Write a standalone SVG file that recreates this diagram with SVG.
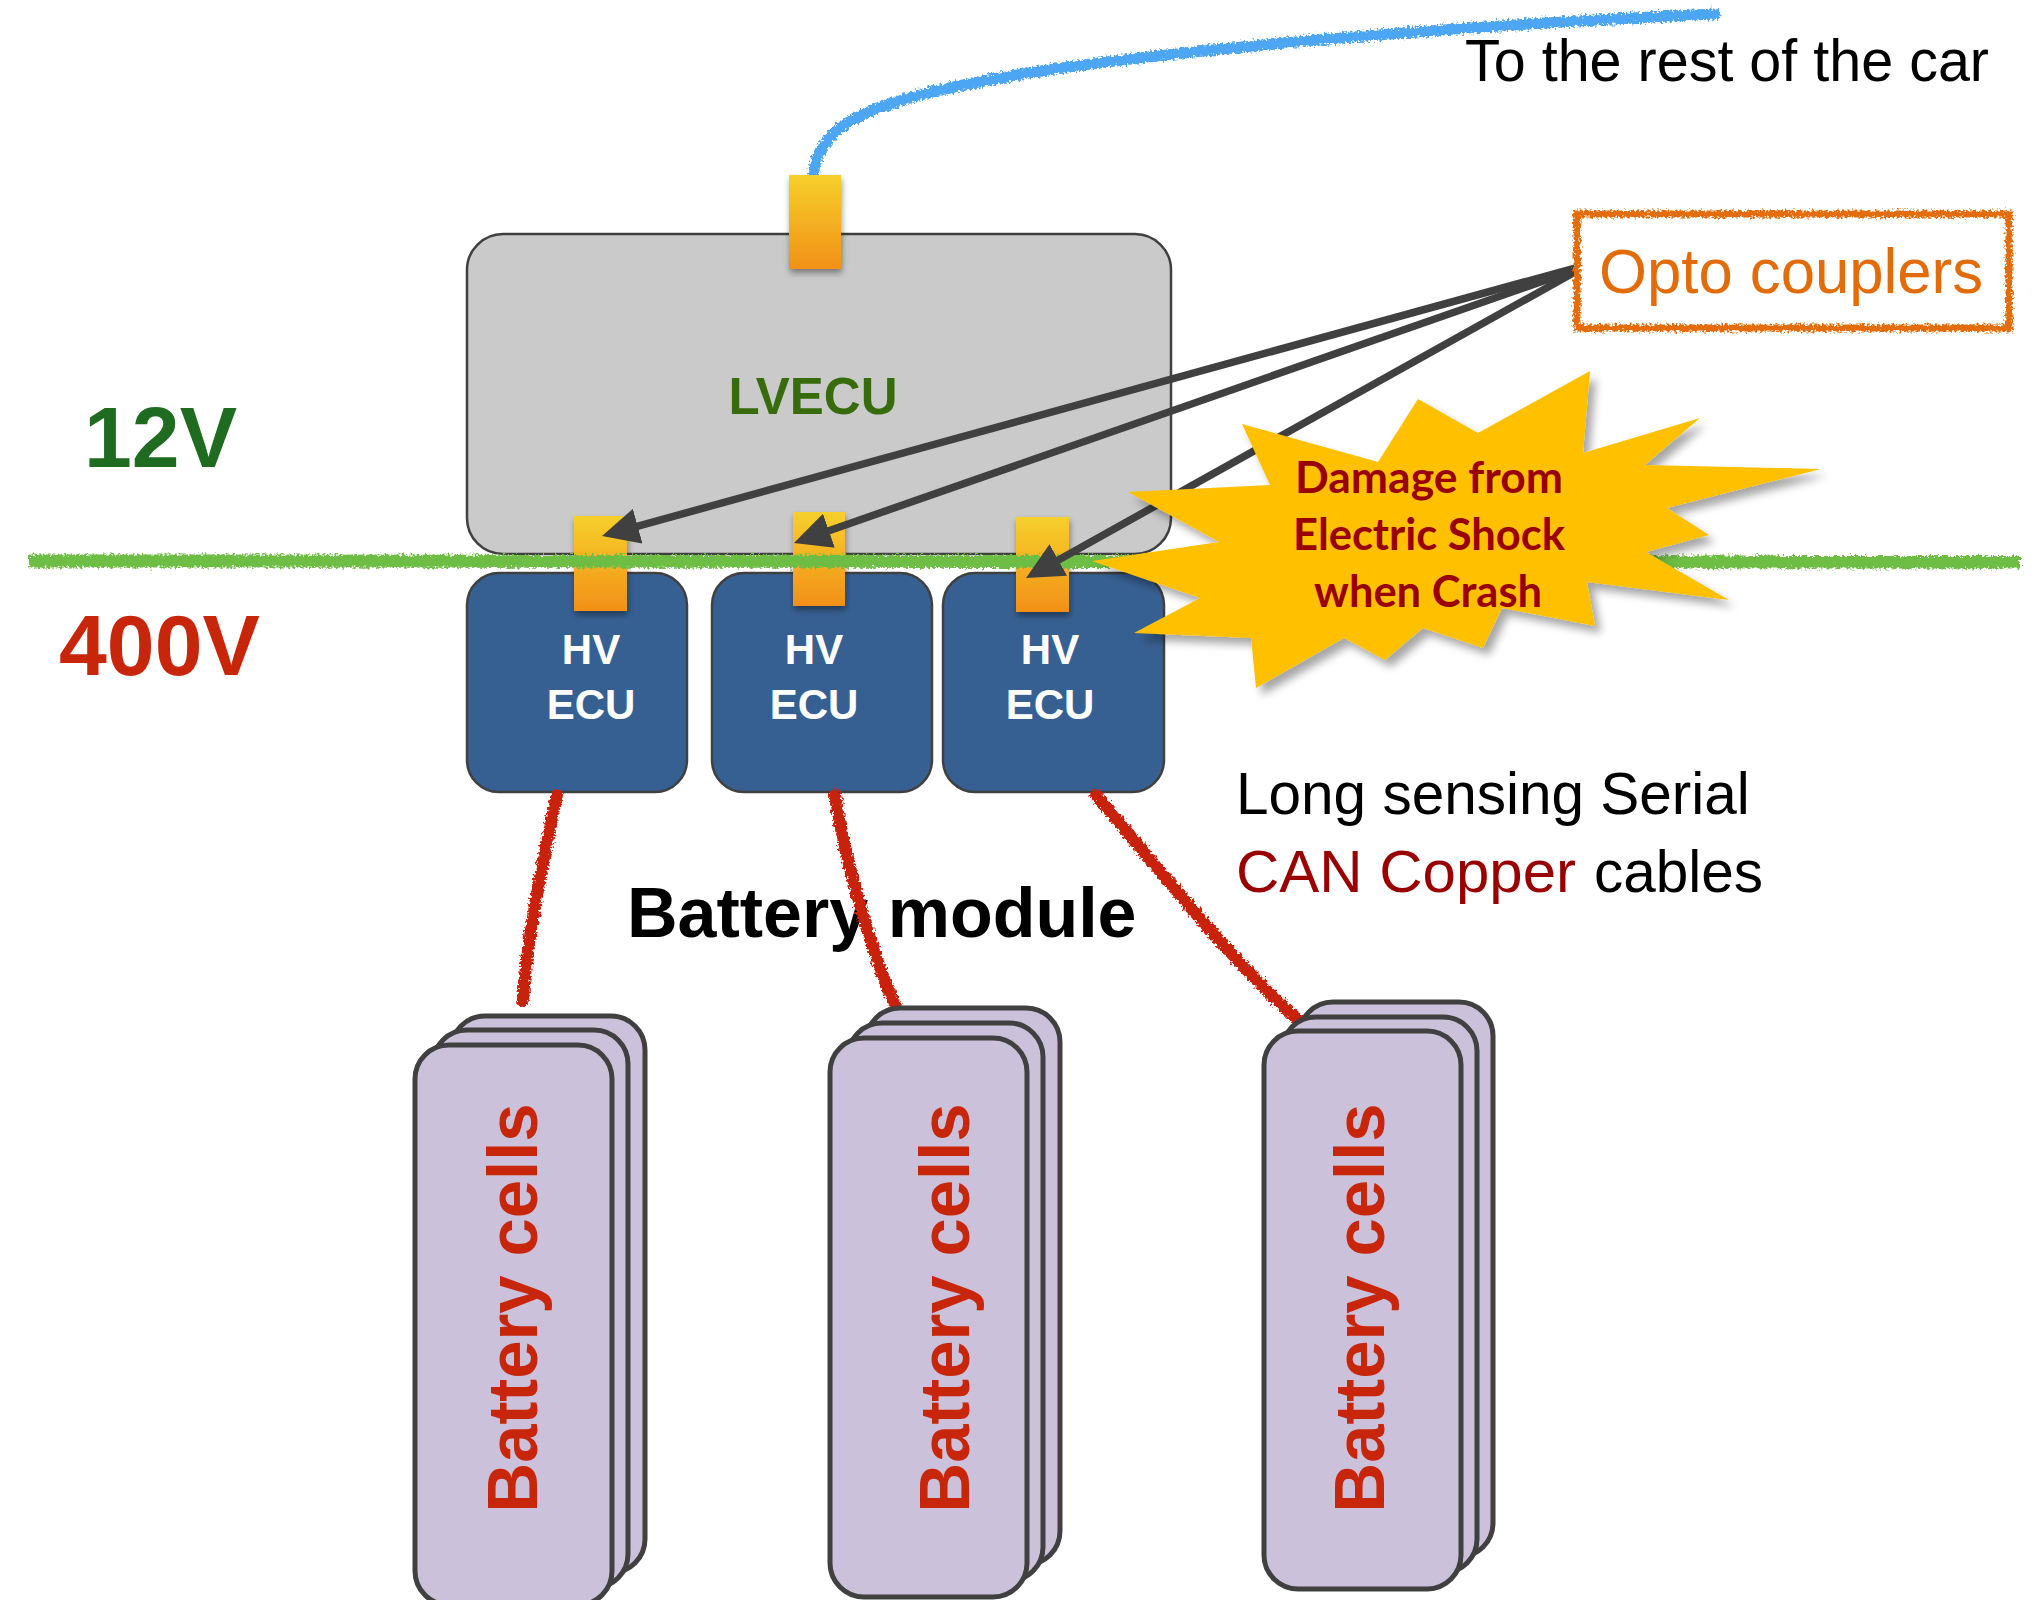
<svg xmlns="http://www.w3.org/2000/svg" width="2036" height="1600" viewBox="0 0 2036 1600">
<defs>
<style>
.ecu-lv{fill:#CACACA;stroke:#404040;stroke-width:2.5}
.ecu-hv{fill:#376092;stroke:#404040;stroke-width:2.5}
.conn{fill:url(#og);filter:url(#shadow)}
.cell{fill:#CCC1DA;stroke:#404040;stroke-width:5}
.hvt{font-family:"Liberation Sans",Arial,sans-serif;font-weight:bold;font-size:42px;fill:#FFFFFF;text-anchor:middle}
.cellt{font-family:"Liberation Sans",Arial,sans-serif;font-weight:bold;font-size:70px;fill:#C8260A;text-anchor:middle}
.arrow{fill:none;stroke:#404040;stroke-width:7.5;marker-end:url(#ah)}
.cable{fill:none;stroke:#C8240A;stroke-width:12;stroke-linecap:round}
.burstt{font-family:Lato,"Open Sans",sans-serif;font-weight:bold;font-size:44px;fill:#990000;text-anchor:middle}
.body{font-family:"Liberation Sans",Arial,sans-serif;font-size:58.5px}
</style>
<linearGradient id="og" x1="0" y1="0" x2="0" y2="1">
<stop offset="0" stop-color="#F6D02B"/>
<stop offset="1" stop-color="#F29018"/>
</linearGradient>
<filter id="rough" filterUnits="userSpaceOnUse" x="0" y="0" width="2036" height="1600">
<feTurbulence type="fractalNoise" baseFrequency="0.4" numOctaves="2" seed="3" result="n"/>
<feDisplacementMap in="SourceGraphic" in2="n" scale="8" xChannelSelector="R" yChannelSelector="G"/>
</filter>
<filter id="shadow" x="-40%" y="-20%" width="180%" height="150%">
<feDropShadow dx="1" dy="4" stdDeviation="3" flood-color="#000000" flood-opacity="0.4"/>
</filter>
<filter id="bshadow" x="-10%" y="-10%" width="125%" height="130%">
<feDropShadow dx="6" dy="7" stdDeviation="4" flood-color="#000000" flood-opacity="0.35"/>
</filter>
<marker id="ah" markerUnits="userSpaceOnUse" markerWidth="37" markerHeight="36" refX="25" refY="18" orient="auto">
<path d="M0,0 L37,18 L0,36 z" fill="#404040"/>
</marker>
</defs>
<rect x="0" y="0" width="2036" height="1600" fill="#FFFFFF"/>

<g id="labels-left">
<text x="84" y="467" font-family="Liberation Sans, Arial, sans-serif" font-weight="bold" font-size="86" fill="#1F6B1F">12V</text>
<text x="59" y="675" font-family="Liberation Sans, Arial, sans-serif" font-weight="bold" font-size="86" fill="#C8260A">400V</text>
</g>

<g id="car-link">
<path d="M813 176 C 818 120, 880 100, 1000 78 S 1400 28, 1715 14" fill="none" stroke="#4EA6F3" stroke-width="11" stroke-linecap="round" filter="url(#rough)"/>
<text x="1465" y="81" font-family="Liberation Sans, Arial, sans-serif" font-size="60" fill="#000000" textLength="524" lengthAdjust="spacingAndGlyphs">To the rest of the car</text>
</g>

<g id="lvecu">
<rect class="ecu-lv" x="467" y="234" width="704" height="320" rx="36"/>
<text x="813" y="414" text-anchor="middle" font-family="Liberation Sans, Arial, sans-serif" font-weight="bold" font-size="51" fill="#376B0C">LVECU</text>
<rect class="conn" x="789" y="175" width="52" height="94"/>
</g>

<g id="hvecu1">
<rect class="ecu-hv" x="467" y="573" width="220" height="219" rx="32"/>
<text class="hvt" x="591" y="664">HV</text>
<text class="hvt" x="591" y="719">ECU</text>
</g>
<g id="hvecu2">
<rect class="ecu-hv" x="712" y="573" width="220" height="219" rx="32"/>
<text class="hvt" x="814" y="664">HV</text>
<text class="hvt" x="814" y="719">ECU</text>
</g>
<g id="hvecu3">
<rect class="ecu-hv" x="943" y="573" width="221" height="219" rx="32"/>
<text class="hvt" x="1050" y="664">HV</text>
<text class="hvt" x="1050" y="719">ECU</text>
</g>

<g id="couplers">
<rect class="conn" x="574" y="516" width="53" height="95"/>
<rect class="conn" x="793" y="512" width="52" height="94"/>
<rect class="conn" x="1016" y="517" width="53" height="95"/>
</g>

<g id="boundary">
<path d="M29 561 L2020 562" fill="none" stroke="#6EBE44" stroke-width="13" filter="url(#rough)"/>
</g>

<g id="connectors">
<path class="arrow" d="M1575 268 L613.6 532.8"/>
<path class="arrow" d="M1575 270 L805.3 539"/>
<path class="arrow" d="M1575 272 L1036.5 572.2"/>
</g>

<g id="opto">
<rect x="1577" y="214" width="432" height="114" fill="none" stroke="#E36C0A" stroke-width="7" filter="url(#rough)"/>
<text x="1599" y="293" font-family="Liberation Sans, Arial, sans-serif" font-size="63" fill="#E36C0A" textLength="384" lengthAdjust="spacingAndGlyphs">Opto couplers</text>
</g>

<g id="burst">
<polygon fill="#FFC000" filter="url(#bshadow)" points="1590,371 1583,453 1700,418 1645,465 1821,469 1667,508 1709,535 1646,552 1729,600 1587,582 1595,626 1502,608 1483,648 1423,628 1385,660 1344,638 1256,688 1251,638 1134,633 1200,598 1092,561 1219,542 1128,492 1270,485 1242,424 1378,462 1418,399 1478,433"/>
<text class="burstt" x="1429" y="493" textLength="268" lengthAdjust="spacingAndGlyphs">Damage from</text>
<text class="burstt" x="1429" y="550" textLength="272" lengthAdjust="spacingAndGlyphs">Electric Shock</text>
<text class="burstt" x="1428" y="607" textLength="228" lengthAdjust="spacingAndGlyphs">when Crash</text>
</g>

<g id="cable-label">
<text class="body" x="1236" y="814" fill="#000000">Long sensing Serial</text>
<text class="body" x="1236" y="892" fill="#990000" textLength="340" lengthAdjust="spacingAndGlyphs">CAN Copper</text>
<text class="body" x="1594" y="892" fill="#000000">cables</text>
</g>

<g id="module-label">
<text x="627" y="937" font-family="Liberation Sans, Arial, sans-serif" font-weight="bold" font-size="70" fill="#000000">Battery module</text>
</g>

<g id="cables" filter="url(#rough)">
<path class="cable" d="M557 795 C 545 850, 526 940, 523 1001"/>
<path class="cable" d="M835 795 C 845 860, 870 950, 896 1007"/>
<path class="cable" d="M1096 795 C 1160 870, 1230 960, 1298 1020"/>
</g>

<g id="cells1">
<rect class="cell" x="451" y="1016" width="194" height="557" rx="34"/>
<rect class="cell" x="433" y="1030" width="195" height="558" rx="34"/>
<rect class="cell" x="415" y="1045" width="197" height="560" rx="34"/>
<text class="cellt" transform="translate(537,1308) rotate(-90)" textLength="409" lengthAdjust="spacingAndGlyphs">Battery cells</text>
</g>
<g id="cells2">
<rect class="cell" x="866" y="1008" width="194" height="557" rx="34"/>
<rect class="cell" x="848" y="1023" width="195" height="558" rx="34"/>
<rect class="cell" x="830" y="1038" width="197" height="559" rx="34"/>
<text class="cellt" transform="translate(969,1308) rotate(-90)" textLength="409" lengthAdjust="spacingAndGlyphs">Battery cells</text>
</g>
<g id="cells3">
<rect class="cell" x="1299" y="1002" width="194" height="555" rx="34"/>
<rect class="cell" x="1282" y="1017" width="195" height="556" rx="34"/>
<rect class="cell" x="1264" y="1031" width="197" height="558" rx="34"/>
<text class="cellt" transform="translate(1384,1308) rotate(-90)" textLength="409" lengthAdjust="spacingAndGlyphs">Battery cells</text>
</g>
</svg>
